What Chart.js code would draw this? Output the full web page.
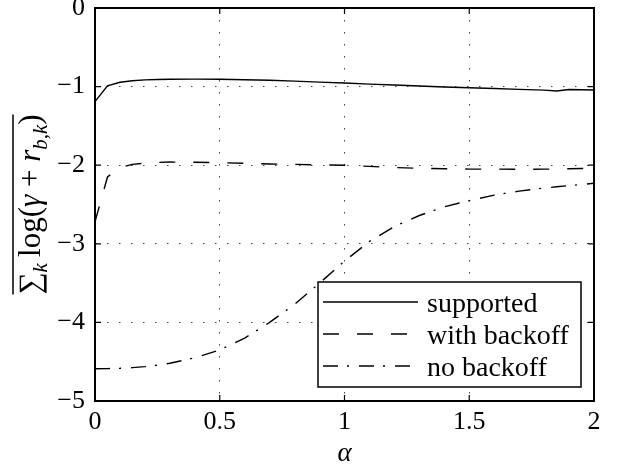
<!DOCTYPE html>
<html>
<head>
<meta charset="utf-8">
<script src="https://cdn.jsdelivr.net/npm/chart.js@4.4.1/dist/chart.umd.min.js"></script>
<style>
  html, body { margin: 0; padding: 0; background: #fff; }
  #wrap { width: 622px; height: 474px; }
</style>
</head>
<body>
<div id="wrap"><canvas id="myChart" width="622" height="474"></canvas></div>
<script>
// alpha sweep and the three averaged log-rate curves
const alpha = [0, 0.05, 0.1, 0.15, 0.2, 0.25, 0.3, 0.4, 0.5, 0.6, 0.7, 0.8, 0.9, 1.0,
  1.1, 1.2, 1.3, 1.4, 1.5, 1.6, 1.7, 1.8, 1.85, 1.9, 1.95, 2.0];
const supported = [-1.19, -0.99, -0.945, -0.925, -0.915, -0.91, -0.907, -0.905, -0.907, -0.913,
  -0.92, -0.93, -0.943, -0.955, -0.968, -0.98, -0.993, -1.005, -1.015, -1.025, -1.035, -1.045,
  -1.056, -1.037, -1.04, -1.043];
const withBackoff = [-2.72, -2.15, -2.03, -1.99, -1.975, -1.965, -1.96, -1.962, -1.968, -1.976,
  -1.984, -1.99, -1.995, -2.0, -2.015, -2.03, -2.04, -2.045, -2.05, -2.05, -2.052, -2.05,
  -2.05, -2.045, -2.042, -2.04];
const noBackoff = [-4.59, -4.588, -4.584, -4.576, -4.563, -4.545, -4.52, -4.45, -4.35, -4.2,
  -4.0, -3.77, -3.5, -3.22, -2.97, -2.78, -2.64, -2.53, -2.45, -2.38, -2.33, -2.29,
  -2.275, -2.26, -2.245, -2.23];
const seriesNames = ['supported', 'with backoff', 'no backoff'];

const serif = "'Liberation Serif', 'Times New Roman', serif";

function pts(ys) {
  return alpha.map((a, i) => ({ x: a, y: ys[i] }));
}

// box, inward ticks, legend and the y label drawn on top of the plot
const extras = {
  id: 'extras',
  afterDatasetsDraw(chart) {
    const c = chart.ctx;
    const a = chart.chartArea;
    const sx = chart.scales.x, sy = chart.scales.y;
    c.save();
    c.strokeStyle = '#000';

    // inward ticks on all four sides
    c.lineWidth = 1.2;
    c.beginPath();
    sx.ticks.forEach(t => {
      const px = sx.getPixelForValue(t.value);
      c.moveTo(px, a.bottom); c.lineTo(px, a.bottom - 6);
      c.moveTo(px, a.top); c.lineTo(px, a.top + 6);
    });
    sy.ticks.forEach(t => {
      const py = sy.getPixelForValue(t.value);
      c.moveTo(a.left, py); c.lineTo(a.left + 6, py);
      c.moveTo(a.right, py); c.lineTo(a.right - 6, py);
    });
    c.stroke();

    // axes box
    c.lineWidth = 2;
    c.strokeRect(a.left, a.top, a.right - a.left, a.bottom - a.top);

    // legend
    const lx = a.right - 276, ly = a.bottom - 119, lw = 263, lh = 105;
    c.fillStyle = '#fff';
    c.fillRect(lx, ly, lw, lh);
    c.lineWidth = 1.5;
    c.strokeRect(lx, ly, lw, lh);
    c.font = '28px ' + serif;
    c.textBaseline = 'alphabetic';
    c.textAlign = 'left';
    chart.data.datasets.forEach((ds, i) => {
      const yy = ly + 20 + i * 32;
      c.save();
      c.lineWidth = ds.borderWidth;
      c.setLineDash(ds.borderDash || []);
      c.beginPath();
      c.moveTo(lx + 5, yy);
      c.lineTo(lx + 100, yy);
      c.stroke();
      c.restore();
      c.fillStyle = '#000';
      c.fillText(ds.label, lx + 109, yy + 10);
    });

    // y label: overline(sum_k log(gamma + r_{b,k}))
    const up = '31px ' + serif, it = 'italic 31px ' + serif;
    const sub = 'italic 21px ' + serif;
    const parts = [
      [up, '\u2211', 0], [sub, 'k', 7], [up, '\u2009log(', 0], [it, '\u03b3', 0],
      [up, ' + ', 0], [it, 'r', 0], [sub, 'b,k', 7], [up, ')', 0]
    ];
    let total = 0;
    parts.forEach(p => { c.font = p[0]; p.push(c.measureText(p[1]).width); total += p[3]; });
    c.translate(30, (a.top + a.bottom) / 2);
    c.rotate(-Math.PI / 2);
    c.fillStyle = '#000';
    let u = -total / 2;
    parts.forEach(p => {
      c.font = p[0];
      c.fillText(p[1], u, 10 + p[2]);
      u += p[3];
    });
    c.lineWidth = 1.5;
    c.beginPath();
    c.moveTo(-total / 2, -17);
    c.lineTo(total / 2, -17);
    c.stroke();
    c.restore();
  }
};

const minus = v => String(v).replace('-', '\u2212');

let ctx = document.getElementById('myChart').getContext('2d');
let chart = new Chart(ctx, {
  type: 'line',
  data: {
    datasets: [
      { label: seriesNames[0], data: pts(supported), borderColor: '#000', borderWidth: 1.4, borderDash: [] },
      { label: seriesNames[1], data: pts(withBackoff), borderColor: '#000', borderWidth: 1.4, borderDash: [16, 18] },
      { label: seriesNames[2], data: pts(noBackoff), borderColor: '#000', borderWidth: 1.4, borderDash: [15, 9, 2, 10] }
    ]
  },
  options: {
    responsive: false,
    animation: false,
    events: [],
    elements: { point: { radius: 0 }, line: { tension: 0, fill: false } },
    layout: { padding: { left: 0, top: 8, right: 28, bottom: 0 } },
    plugins: { legend: { display: false }, tooltip: { enabled: false } },
    scales: {
      x: {
        type: 'linear', min: 0, max: 2,
        ticks: { stepSize: 0.5, padding: 6, color: '#000', font: { family: serif, size: 26 }, maxRotation: 0, callback: minus },
        grid: { color: '#444', lineWidth: 1, drawTicks: false },
        border: { display: false, dash: [1.5, 10.5] },
        title: { display: true, text: 'α', color: '#000', padding: { top: 0, bottom: 4 }, font: { family: serif, size: 27, style: 'italic' } },
        afterFit(s) { s.height = 73; s.paddingLeft = 0; s.paddingRight = 0; }
      },
      y: {
        min: -5, max: 0,
        ticks: { stepSize: 1, padding: 10, color: '#000', font: { family: serif, size: 26 }, callback: minus },
        grid: { color: '#444', lineWidth: 1, drawTicks: false },
        border: { display: false, dash: [1.5, 10.5] },
        afterFit(s) { s.width = 95; s.paddingTop = 0; s.paddingBottom = 0; }
      }
    }
  },
  plugins: [extras]
});
</script>
</body>
</html>
